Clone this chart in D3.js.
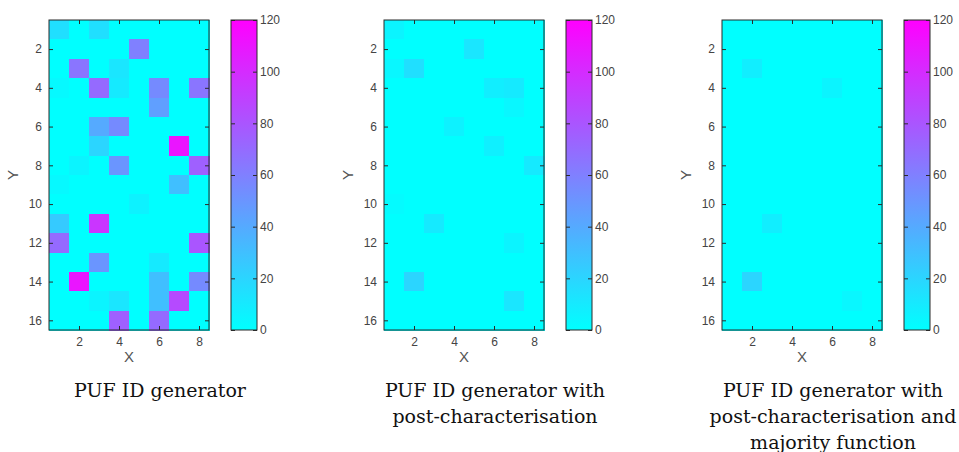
<!DOCTYPE html>
<html>
<head>
<meta charset="utf-8">
<script src="https://cdn.jsdelivr.net/npm/d3@7"></script>
<style>
  body { margin: 0; background: #fff; }
  svg text { font-family: "Liberation Sans", Arial, sans-serif; }
</style>
</head>
<body>
<div id="chart"></div>
<script>
// values: 16 rows (Y = 1..16) x 8 columns (X = 1..8)
var pufRaw = [
  [15, 0, 15, 0, 0, 0, 0, 0],
  [0, 0, 0, 0, 60, 0, 0, 0],
  [0, 65, 0, 12, 0, 0, 0, 0],
  [3, 0, 70, 10, 0, 55, 0, 65],
  [0, 0, 0, 0, 0, 45, 0, 0],
  [0, 0, 40, 55, 0, 0, 0, 0],
  [0, 0, 20, 0, 0, 0, 110, 0],
  [0, 5, 0, 50, 0, 0, 0, 75],
  [3, 0, 0, 0, 0, 0, 30, 0],
  [0, 0, 0, 0, 6, 0, 0, 0],
  [25, 0, 95, 0, 0, 0, 0, 0],
  [70, 0, 0, 0, 0, 0, 0, 80],
  [0, 0, 50, 0, 0, 10, 0, 0],
  [0, 110, 0, 0, 0, 30, 0, 55],
  [0, 0, 5, 12, 0, 30, 85, 0],
  [0, 0, 0, 75, 0, 70, 0, 0]
];
var pufPost = [
  [5, 0, 0, 0, 0, 0, 0, 0],
  [0, 0, 0, 0, 12, 0, 0, 0],
  [4, 15, 0, 0, 0, 0, 0, 0],
  [0, 0, 0, 0, 0, 8, 10, 0],
  [0, 0, 0, 0, 0, 0, 4, 0],
  [0, 0, 0, 6, 0, 0, 0, 0],
  [0, 0, 0, 0, 0, 7, 0, 0],
  [0, 0, 0, 0, 0, 0, 0, 10],
  [0, 0, 0, 0, 0, 0, 0, 0],
  [2, 0, 0, 0, 0, 0, 0, 0],
  [0, 0, 10, 0, 0, 0, 0, 0],
  [0, 0, 0, 0, 0, 0, 5, 0],
  [0, 0, 0, 0, 0, 0, 0, 0],
  [0, 20, 0, 0, 0, 0, 0, 0],
  [0, 0, 0, 0, 0, 0, 12, 0],
  [0, 0, 0, 0, 0, 0, 0, 0]
];
var pufMajority = [
  [0, 0, 0, 0, 0, 0, 0, 0],
  [0, 0, 0, 0, 0, 0, 0, 0],
  [0, 8, 0, 0, 0, 0, 0, 0],
  [0, 0, 0, 0, 0, 5, 0, 0],
  [0, 0, 0, 0, 0, 0, 0, 0],
  [0, 0, 0, 0, 0, 0, 0, 0],
  [0, 0, 0, 0, 0, 0, 0, 0],
  [0, 0, 0, 0, 0, 0, 0, 0],
  [0, 0, 0, 0, 0, 0, 0, 0],
  [0, 0, 0, 0, 0, 0, 0, 0],
  [0, 0, 8, 0, 0, 0, 0, 0],
  [0, 0, 0, 0, 0, 0, 0, 0],
  [0, 0, 0, 0, 0, 0, 0, 0],
  [0, 20, 0, 0, 0, 0, 0, 0],
  [0, 0, 0, 0, 0, 0, 4, 0],
  [0, 0, 0, 0, 0, 0, 0, 0]
];
var xTicks = [2, 4, 6, 8];
var yTicks = [2, 4, 6, 8, 10, 12, 14, 16];
var cbTicks = [0, 20, 40, 60, 80, 100, 120];
var titles = [
  ["PUF ID generator"],
  ["PUF ID generator with", "post-characterisation"],
  ["PUF ID generator with", "post-characterisation and", "majority function"]
];
var maps = [pufRaw, pufPost, pufMajority];

var width = 959, height = 452;
var panelLeft = [49, 384, 722];
var plotW = 160, plotTop = 20, plotBottom = 330;
var axisColor = "#2b2b2b", labelColor = "#444";

var svg = d3.select("#chart").append("svg")
  .attr("width", width).attr("height", height);

// MATLAB "cool" colormap: cyan -> magenta
var color = d3.scaleLinear().domain([0, 120]).range(["#00ffff", "#ff00ff"]).clamp(true);

maps.forEach(function(m, i) {
  var x0 = panelLeft[i];
  var x = d3.scaleLinear().domain([0.5, 8.5]).range([x0, x0 + plotW]);
  var y = d3.scaleLinear().domain([0.5, 16.5]).range([plotTop, plotBottom]);
  var g = svg.append("g");

  var cells = [];
  m.forEach(function(row, r) {
    row.forEach(function(v, c) { cells.push({ x: c + 1, y: r + 1, v: v }); });
  });
  g.selectAll("rect.cell").data(cells).enter().append("rect")
    .attr("class", "cell")
    .attr("x", function(d) { return x(d.x - 0.5); })
    .attr("y", function(d) { return y(d.y - 0.5); })
    .attr("width", x(1.5) - x(0.5) + 0.5)
    .attr("height", y(1.5) - y(0.5) + 0.5)
    .attr("shape-rendering", "crispEdges")
    .attr("fill", function(d) { return color(d.v); });

  // axes with inward ticks on all four sides
  var tk = 4;
  g.append("g").attr("transform", "translate(0," + plotBottom + ")")
    .call(d3.axisBottom(x).tickValues(xTicks).tickSizeInner(-tk).tickSizeOuter(0).tickPadding(7));
  g.append("g").attr("transform", "translate(0," + plotTop + ")")
    .call(d3.axisTop(x).tickValues(xTicks).tickSizeInner(-tk).tickSizeOuter(0).tickFormat(""));
  g.append("g").attr("transform", "translate(" + x0 + ",0)")
    .call(d3.axisLeft(y).tickValues(yTicks).tickSizeInner(-tk).tickSizeOuter(0).tickPadding(7));
  g.append("g").attr("transform", "translate(" + (x0 + plotW) + ",0)")
    .call(d3.axisRight(y).tickValues(yTicks).tickSizeInner(-tk).tickSizeOuter(0).tickFormat(""));
  g.append("rect")
    .attr("x", x0).attr("y", plotTop).attr("width", plotW).attr("height", plotBottom - plotTop)
    .attr("fill", "none").attr("stroke", axisColor).attr("stroke-width", 1);

  g.append("text")
    .attr("x", x0 + plotW / 2).attr("y", 362)
    .attr("text-anchor", "middle").attr("fill", "#555")
    .style("font-size", "15px").text("X");
  g.append("text")
    .attr("transform", "translate(" + (x0 - 31) + "," + ((plotTop + plotBottom) / 2) + ") rotate(-90)")
    .attr("text-anchor", "middle").attr("fill", "#555")
    .style("font-size", "15px").text("Y");

  // colour bar
  var cbX = x0 + 182, cbW = 26;
  var cy = d3.scaleLinear().domain([0, 120]).range([plotBottom, plotTop]);
  var gradId = "cool" + i;
  var grad = svg.append("defs").append("linearGradient")
    .attr("id", gradId).attr("x1", 0).attr("y1", 1).attr("x2", 0).attr("y2", 0);
  grad.selectAll("stop").data(cbTicks).enter().append("stop")
    .attr("offset", function(d) { return d / 120; })
    .attr("stop-color", function(d) { return color(d); });
  g.append("rect")
    .attr("x", cbX).attr("y", plotTop).attr("width", cbW).attr("height", plotBottom - plotTop)
    .attr("fill", "url(#" + gradId + ")");
  g.append("g").attr("transform", "translate(" + (cbX + cbW) + ",0)")
    .call(d3.axisRight(cy).tickValues(cbTicks).tickSizeInner(-tk).tickSizeOuter(0).tickPadding(3));
  g.append("g").attr("transform", "translate(" + cbX + ",0)")
    .call(d3.axisLeft(cy).tickValues(cbTicks).tickSizeInner(-tk).tickSizeOuter(0).tickFormat(""));
  g.append("rect")
    .attr("x", cbX).attr("y", plotTop).attr("width", cbW).attr("height", plotBottom - plotTop)
    .attr("fill", "none").attr("stroke", axisColor).attr("stroke-width", 1);

  // caption under each panel
  var cx = x0 + 111;
  titles[i].forEach(function(line, k) {
    g.append("text")
      .attr("x", cx).attr("y", 397 + k * 26)
      .attr("text-anchor", "middle")
      .attr("fill", "#111")
      .style("font-family", "'DejaVu Serif', 'Liberation Serif', serif")
      .style("font-size", "19px")
      .text(line);
  });
});

svg.selectAll(".domain").remove();
svg.selectAll(".tick line").attr("stroke", axisColor);
svg.selectAll(".tick text").attr("fill", labelColor).style("font-size", "12px")
  .style("font-family", "'Liberation Sans', Arial, sans-serif");
</script>
</body>
</html>
